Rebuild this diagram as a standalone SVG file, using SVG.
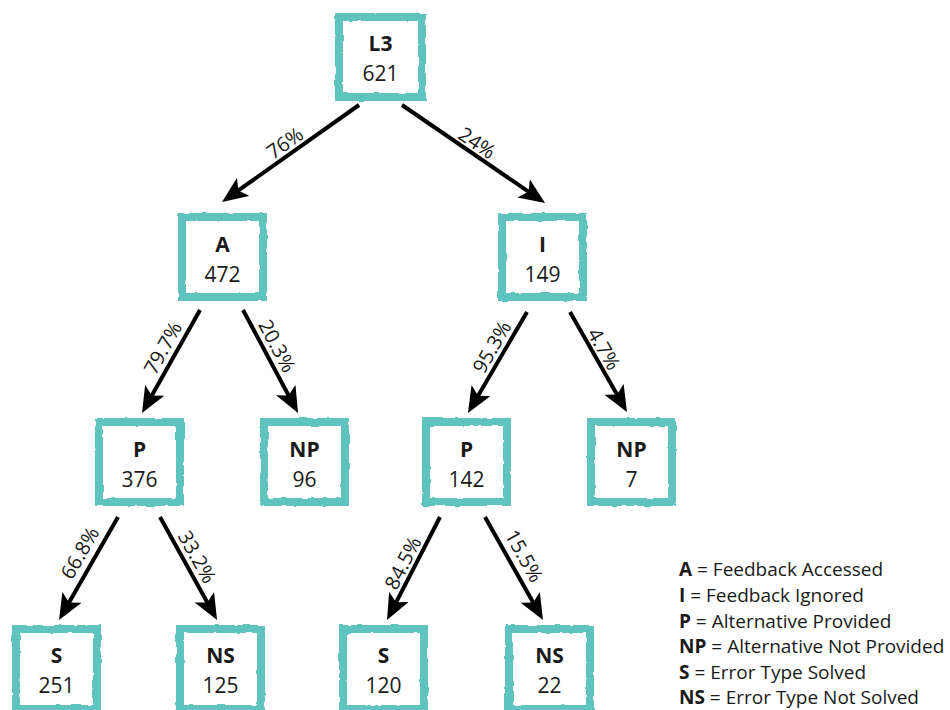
<svg xmlns="http://www.w3.org/2000/svg" width="950" height="710" viewBox="0 0 950 710">
  <defs>
    <style>
      .box { fill: #ffffff; stroke: #5ec4bf; stroke-width: 8; filter: url(#rough); }
      .lbl { font-family: "Open Sans", "Liberation Sans", sans-serif; font-weight: 700; font-size: 21px; fill: #1a1a1a; text-anchor: middle; }
      .num { font-family: "Open Sans", "Liberation Sans", sans-serif; font-weight: 400; font-size: 21px; fill: #1a1a1a; text-anchor: middle; }
      .edge { stroke: #000000; stroke-width: 4; fill: none; marker-end: url(#head); }
      .pct { font-family: "Open Sans", "Liberation Sans", sans-serif; font-size: 20px; fill: #1a1a1a; text-anchor: middle; }
      .key { font-family: "Open Sans", "Liberation Sans", sans-serif; font-size: 19px; fill: #1a1a1a; }
      .key tspan.b { font-weight: 700; }
    </style>
    <!-- brushed, slightly ragged frame edges -->
    <filter id="rough" x="-10%" y="-10%" width="120%" height="120%">
      <feTurbulence type="fractalNoise" baseFrequency="0.09" numOctaves="2" seed="4" result="n"/>
      <feDisplacementMap in="SourceGraphic" in2="n" scale="3" xChannelSelector="R" yChannelSelector="G"/>
    </filter>
    <marker id="head" viewBox="0 0 26 22" refX="16" refY="11" markerWidth="26" markerHeight="22" markerUnits="userSpaceOnUse" orient="auto">
      <path d="M0,0 L26,11 L0,22 L6,11 Z" fill="#000000"/>
    </marker>
  </defs>

  <rect width="950" height="710" fill="#ffffff"/>

  <!-- connectors -->
  <g id="connectors">
    <line class="edge" x1="359" y1="105" x2="230.2" y2="196.2"/>
    <line class="edge" x1="402" y1="105" x2="536.8" y2="197.4"/>
    <line class="edge" x1="200" y1="310" x2="146.9" y2="404.3"/>
    <line class="edge" x1="243" y1="310" x2="293.3" y2="404.2"/>
    <line class="edge" x1="527" y1="312" x2="473.0" y2="404.4"/>
    <line class="edge" x1="570" y1="312" x2="622.0" y2="403.3"/>
    <line class="edge" x1="118" y1="517" x2="64.0" y2="611.3"/>
    <line class="edge" x1="160" y1="517" x2="212.2" y2="611.2"/>
    <line class="edge" x1="440" y1="517" x2="391.6" y2="611.1"/>
    <line class="edge" x1="485" y1="517" x2="538.1" y2="611.3"/>

    <g transform="translate(285,143) rotate(-35)"><text class="pct" dy="0.35em">76%</text></g>
    <g transform="translate(477,143) rotate(34)"><text class="pct" dy="0.35em">24%</text></g>
    <g transform="translate(163,348) rotate(-61)"><text class="pct" dy="0.35em">79.7%</text></g>
    <g transform="translate(277,346) rotate(62)"><text class="pct" dy="0.35em">20.3%</text></g>
    <g transform="translate(492,347) rotate(-60)"><text class="pct" dy="0.35em">95.3%</text></g>
    <g transform="translate(604,349) rotate(60)"><text class="pct" dy="0.35em">4.7%</text></g>
    <g transform="translate(80,553) rotate(-60)"><text class="pct" dy="0.35em">66.8%</text></g>
    <g transform="translate(197,557) rotate(61)"><text class="pct" dy="0.35em">33.2%</text></g>
    <g transform="translate(403,563) rotate(-63)"><text class="pct" dy="0.35em">84.5%</text></g>
    <g transform="translate(524,556) rotate(61)"><text class="pct" dy="0.35em">15.5%</text></g>
  </g>

  <!-- nodes -->
  <g id="node-L3">
    <rect class="box" x="339" y="17" width="83" height="80"/>
    <text class="lbl" x="380.5" y="51">L3</text>
    <text class="num" x="380.5" y="81">621</text>
  </g>
  <g id="node-A">
    <rect class="box" x="182" y="217" width="81" height="80"/>
    <text class="lbl" x="222.5" y="252">A</text>
    <text class="num" x="222.5" y="282">472</text>
  </g>
  <g id="node-I">
    <rect class="box" x="502" y="217" width="81" height="80"/>
    <text class="lbl" x="542.5" y="252">I</text>
    <text class="num" x="542.5" y="282">149</text>
  </g>
  <g id="node-P-left">
    <rect class="box" x="99" y="422" width="81" height="80"/>
    <text class="lbl" x="139.5" y="457">P</text>
    <text class="num" x="139.5" y="487">376</text>
  </g>
  <g id="node-NP-left">
    <rect class="box" x="264" y="422" width="81" height="80"/>
    <text class="lbl" x="304.5" y="457">NP</text>
    <text class="num" x="304.5" y="487">96</text>
  </g>
  <g id="node-P-right">
    <rect class="box" x="426" y="422" width="81" height="80"/>
    <text class="lbl" x="466.5" y="457">P</text>
    <text class="num" x="466.5" y="487">142</text>
  </g>
  <g id="node-NP-right">
    <rect class="box" x="591" y="422" width="81" height="80"/>
    <text class="lbl" x="631.5" y="457">NP</text>
    <text class="num" x="631.5" y="487">7</text>
  </g>
  <g id="node-S-left">
    <rect class="box" x="16" y="629" width="81" height="80"/>
    <text class="lbl" x="56.5" y="663">S</text>
    <text class="num" x="56.5" y="693">251</text>
  </g>
  <g id="node-NS-left">
    <rect class="box" x="180" y="629" width="81" height="80"/>
    <text class="lbl" x="220.5" y="663">NS</text>
    <text class="num" x="220.5" y="693">125</text>
  </g>
  <g id="node-S-right">
    <rect class="box" x="343" y="629" width="81" height="80"/>
    <text class="lbl" x="383.5" y="663">S</text>
    <text class="num" x="383.5" y="693">120</text>
  </g>
  <g id="node-NS-right">
    <rect class="box" x="509" y="629" width="81" height="80"/>
    <text class="lbl" x="549.5" y="663">NS</text>
    <text class="num" x="549.5" y="693">22</text>
  </g>

  <!-- key -->
  <g id="legend">
    <text class="key" x="679" y="576"><tspan class="b">A</tspan> = Feedback Accessed</text>
    <text class="key" x="679" y="602"><tspan class="b">I</tspan> = Feedback Ignored</text>
    <text class="key" x="679" y="627.5"><tspan class="b">P</tspan> = Alternative Provided</text>
    <text class="key" x="679" y="653"><tspan class="b">NP</tspan> = Alternative Not Provided</text>
    <text class="key" x="679" y="678.5"><tspan class="b">S</tspan> = Error Type Solved</text>
    <text class="key" x="679" y="704"><tspan class="b">NS</tspan> = Error Type Not Solved</text>
  </g>
</svg>
